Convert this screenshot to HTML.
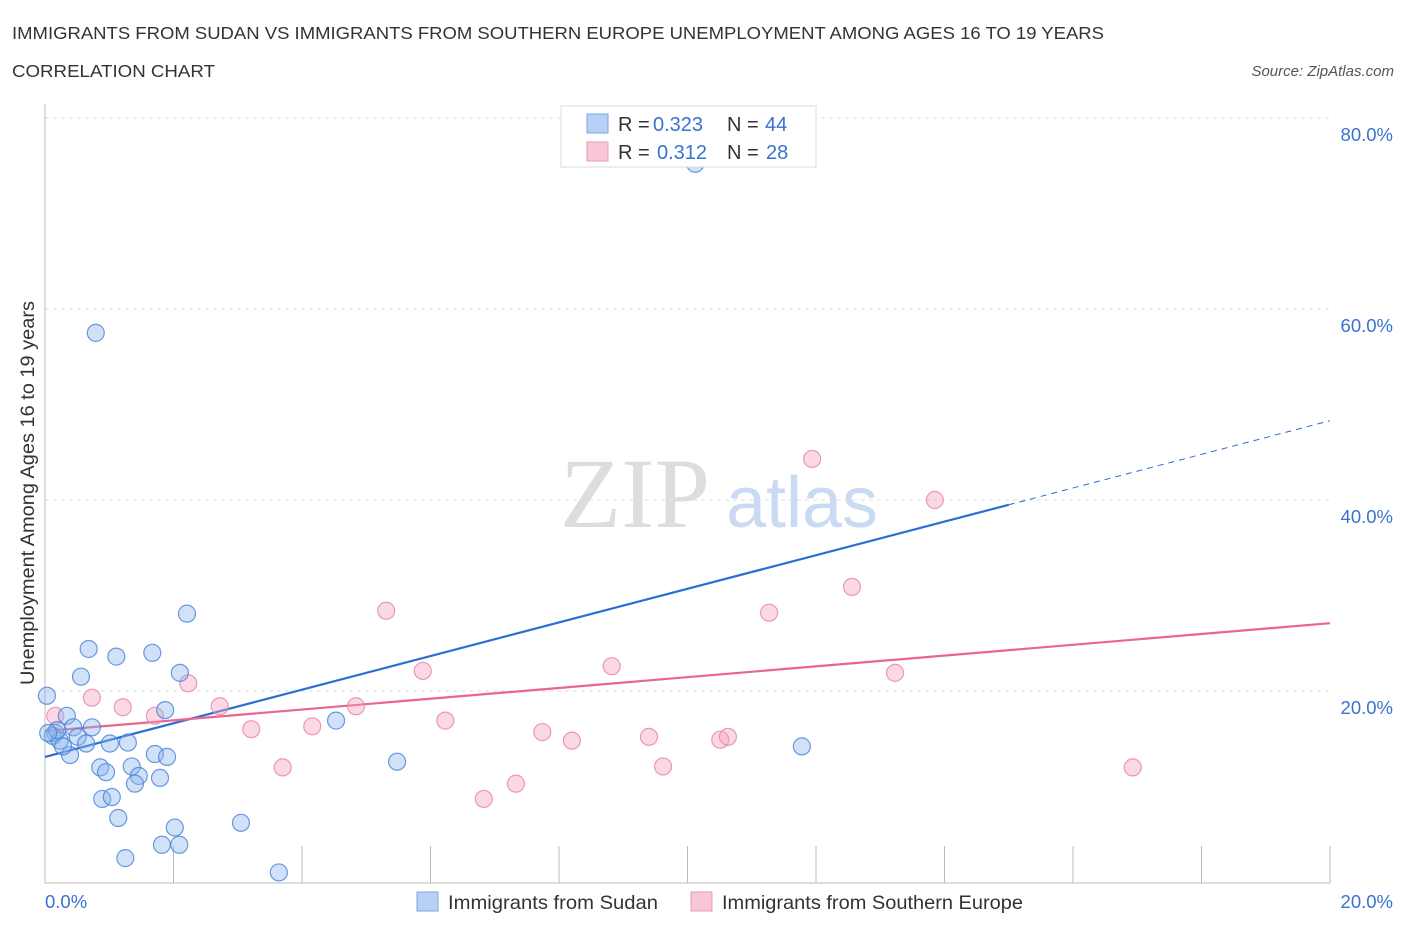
<!DOCTYPE html>
<html><head><meta charset="utf-8"><style>
body{margin:0;background:#fff;font-family:"Liberation Sans",sans-serif;}
svg text{font-family:"Liberation Sans",sans-serif;}
</style></head><body>
<svg id="chart" width="1406" height="930" viewBox="0 0 1406 930">
<text x="12" y="39" font-size="17.5" fill="#333" textLength="1092" lengthAdjust="spacingAndGlyphs">IMMIGRANTS FROM SUDAN VS IMMIGRANTS FROM SOUTHERN EUROPE UNEMPLOYMENT AMONG AGES 16 TO 19 YEARS</text>
<text x="12" y="77" font-size="17.5" fill="#333" textLength="203" lengthAdjust="spacingAndGlyphs">CORRELATION CHART</text>
<text x="1394" y="76" font-size="15" fill="#555" font-style="italic" text-anchor="end">Source: ZipAtlas.com</text>
<g>
<text x="635" y="527" font-size="100" fill="#ddd" text-anchor="middle" style="font-family:'Liberation Serif',serif">ZIP</text>
<text x="802" y="527" font-size="72" fill="#c9daf2" text-anchor="middle">atlas</text>
</g>
<g id="grid"></g>
<g id="axes"></g>
<g id="trends"></g>
<g id="points"></g>
<g>
<rect x="561" y="106" width="255" height="61" fill="#fff" stroke="#ddd"/>
<rect x="587" y="114" width="21" height="19" fill="#b7d0f4" stroke="#7ba6e6"/>
<rect x="587" y="142" width="21" height="19" fill="#f9c6d6" stroke="#eb9ab5"/>
<text y="131" font-size="20" fill="#333"><tspan x="618">R =</tspan><tspan x="653" fill="#3a72d0">0.323</tspan><tspan x="727">N =</tspan><tspan x="765" fill="#3a72d0">44</tspan></text>
<text y="159" font-size="20" fill="#333"><tspan x="618">R =</tspan><tspan x="657" fill="#3a72d0">0.312</tspan><tspan x="727">N =</tspan><tspan x="766" fill="#3a72d0">28</tspan></text>
</g>
<g>
<rect x="417" y="892" width="21" height="19" fill="#b7d0f4" stroke="#7ba6e6"/>
<text x="448" y="909" font-size="19.5" fill="#333" textLength="210" lengthAdjust="spacingAndGlyphs">Immigrants from Sudan</text>
<rect x="691" y="892" width="21" height="19" fill="#f9c6d6" stroke="#eb9ab5"/>
<text x="722" y="909" font-size="19.5" fill="#333" textLength="301" lengthAdjust="spacingAndGlyphs">Immigrants from Southern Europe</text>
</g>
<text transform="translate(34,493) rotate(-90)" font-size="19" fill="#333" text-anchor="middle" textLength="384" lengthAdjust="spacingAndGlyphs">Unemployment Among Ages 16 to 19 years</text>
</svg>
<script>
const sudanX=[0.03,0.79,10.12,2.21,0.68,1.11,1.67,2.10,0.56,0.34,0.73,0.44,0.16,0.12,0.23,0.51,0.64,0.39,1.01,1.29,1.87,4.53,5.48,11.78,1.71,1.90,0.86,0.95,1.35,1.46,1.79,1.40,0.89,1.04,1.14,2.02,3.05,1.82,2.09,1.25,3.64,0.19,0.28,0.05];
const sudanY=[19.5,57.5,75.2,28.1,24.4,23.6,24.0,21.9,21.5,17.4,16.2,16.2,15.6,15.3,14.8,15.2,14.5,13.3,14.5,14.6,18.0,16.9,12.6,14.2,13.4,13.1,12.0,11.5,12.1,11.1,10.9,10.3,8.7,8.9,6.7,5.7,6.2,3.9,3.9,2.5,1.0,15.9,14.2,15.6];
const seX=[0.16,0.73,1.21,1.71,2.23,2.72,3.21,3.70,4.16,4.84,5.31,5.88,6.23,6.83,7.33,7.74,8.20,8.82,9.40,9.62,10.51,10.63,11.27,11.94,12.56,13.23,13.85,16.93];
const seY=[17.4,19.3,18.3,17.4,20.8,18.4,16.0,12.0,16.3,18.4,28.4,22.1,16.9,8.7,10.3,15.7,14.8,22.6,15.2,12.1,14.9,15.2,28.2,44.3,30.9,21.9,40.0,12.0];
const sudanTrend=[13.1,48.3];
const sudanSolidEnd=15.0;
const seTrend=[15.8,27.1];
const yTicks=[20,40,60,80];
const yTickLabels=["20.0%","40.0%","60.0%","80.0%"];
const xTicks=[0,2,4,6,8,10,12,14,16,18,20];

const X=v=>45+v*64.25, Y=v=>882-v*9.55;
const NS="http://www.w3.org/2000/svg";
function mk(tag,attrs,parent){const e=document.createElementNS(NS,tag);for(const k in attrs)e.setAttribute(k,attrs[k]);document.getElementById(parent).appendChild(e);return e;}
yTicks.forEach((t,i)=>{
 const l=mk('line',{x1:45,x2:1330,y1:Y(t),y2:Y(t),stroke:'#ddd','stroke-dasharray':'4,4'},'grid');
 
 
 const tx=mk('text',{x:1393,y:Y(t)+23,'font-size':18.5,fill:'#3a72d0','text-anchor':'end'},'grid');
 tx.textContent=yTickLabels[i];
 
 
});
const ax=mk('line',{x1:45,x2:45,y1:104,y2:883,stroke:'#bbb'},'axes');


const bx=mk('line',{x1:45,x2:1330,y1:883,y2:883,stroke:'#bbb'},'axes');


xTicks.forEach(t=>{
 const l=mk('line',{x1:X(t),x2:X(t),y1:846,y2:883,stroke:'#bbb'},'axes');
 
 
});
const xl0=mk('text',{x:45,y:908,'font-size':18.5,fill:'#3a72d0'},'axes');xl0.textContent='0.0%';


const xl1=mk('text',{x:1393,y:908,'font-size':18.5,fill:'#3a72d0','text-anchor':'end'},'axes');xl1.textContent='20.0%';



const ty=(tr,x)=>tr[0]+(tr[1]-tr[0])*x/20;
const b1=mk('line',{x1:X(0),y1:Y(sudanTrend[0]),x2:X(sudanSolidEnd),y2:Y(ty(sudanTrend,sudanSolidEnd)),stroke:'#2a6fd6','stroke-width':2.2},'trends');


const b2=mk('line',{x1:X(sudanSolidEnd),y1:Y(ty(sudanTrend,sudanSolidEnd)),x2:X(20),y2:Y(sudanTrend[1]),stroke:'#2a6fd6','stroke-width':1,'stroke-dasharray':'6,5'},'trends');


const p1=mk('line',{x1:X(0),y1:Y(seTrend[0]),x2:X(20),y2:Y(seTrend[1]),stroke:'#e8668f','stroke-width':2.2},'trends');



seX.forEach((x,i)=>{
 const c=mk('circle',{cx:X(x),cy:Y(seY[i]),r:8.5,fill:'rgba(244,160,188,0.4)',stroke:'rgba(232,130,165,0.8)','stroke-width':1.2},'points');
 
 
});
sudanX.forEach((x,i)=>{
 const c=mk('circle',{cx:X(x),cy:Y(sudanY[i]),r:8.5,fill:'rgba(140,180,235,0.4)',stroke:'rgba(70,130,215,0.8)','stroke-width':1.2},'points');
 
 
});
</script>
</body></html>
